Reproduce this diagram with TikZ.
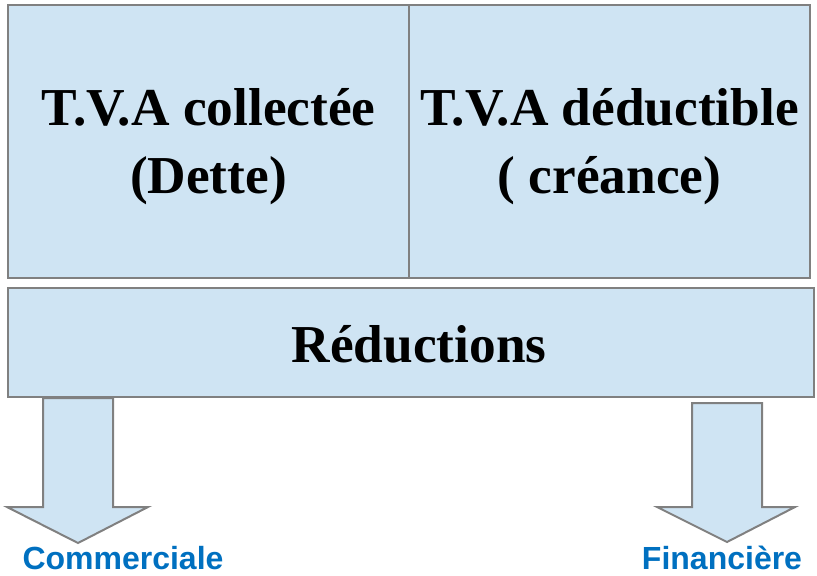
\documentclass[tikz,border=0pt]{standalone}
\usepackage{fontspec}
\setmainfont{Liberation Serif}
\newfontfamily\labelfont{Liberation Sans}
\usetikzlibrary{positioning}
\definecolor{boxfill}{RGB}{207,228,243}
\definecolor{boxline}{RGB}{128,128,128}
\definecolor{labelblue}{RGB}{0,112,192}
\tikzset{
  cell/.style={draw=boxline, fill=boxfill, line width=1.5pt, inner sep=0pt},
  celltext/.style={align=center, inner sep=0pt, font=\fontsize{40}{51}\selectfont\bfseries},
  blockarrow/.style={draw=boxline, fill=boxfill, line width=1.5pt, line join=miter},
  kind/.style={text=labelblue, inner sep=0pt, font=\labelfont\bfseries\fontsize{24}{28}\selectfont}
}
\begin{document}
\begin{tikzpicture}[x=0.75pt,y=-0.75pt]
\useasboundingbox (0,0) rectangle (817,575);

% Upper boxes
\node[cell, minimum width=401*0.75pt, minimum height=273*0.75pt] (collect) at (208.5,141.5) {};
\node[cell, minimum width=401*0.75pt, minimum height=273*0.75pt] (deduct) at (609.5,141.5) {};
\node[celltext, yshift=-4pt] (collect_txt) at (collect.center) {T.V.A collectée\\(Dette)};
\node[celltext, yshift=-4pt] (deduct_txt) at (deduct.center) {T.V.A déductible\\( créance)};

% Reductions bar
\node[cell, minimum width=806*0.75pt, minimum height=109*0.75pt] (reduc) at (411,342.5) {};
\node[celltext, xshift=6pt, yshift=-1pt] (reduc_txt) at (reduc.center) {Réductions};

% Block arrows
\coordinate (tipL) at (78,543);
\coordinate (tipR) at (727,542);
\draw[blockarrow] (43,398) -- (113,398) -- (113,507) -- (148,507) -- (tipL)
  -- (7,507) -- (43,507) -- cycle;
\draw[blockarrow] (692,403) -- (762,403) -- (762,507) -- (795,507) -- (tipR)
  -- (657,507) -- (692,507) -- cycle;

% Labels
\node[kind, anchor=base] (comm) at (123,569) {Commerciale};
\node[kind, anchor=base] (fin) at (722,569) {Financière};
\end{tikzpicture}
\end{document}
